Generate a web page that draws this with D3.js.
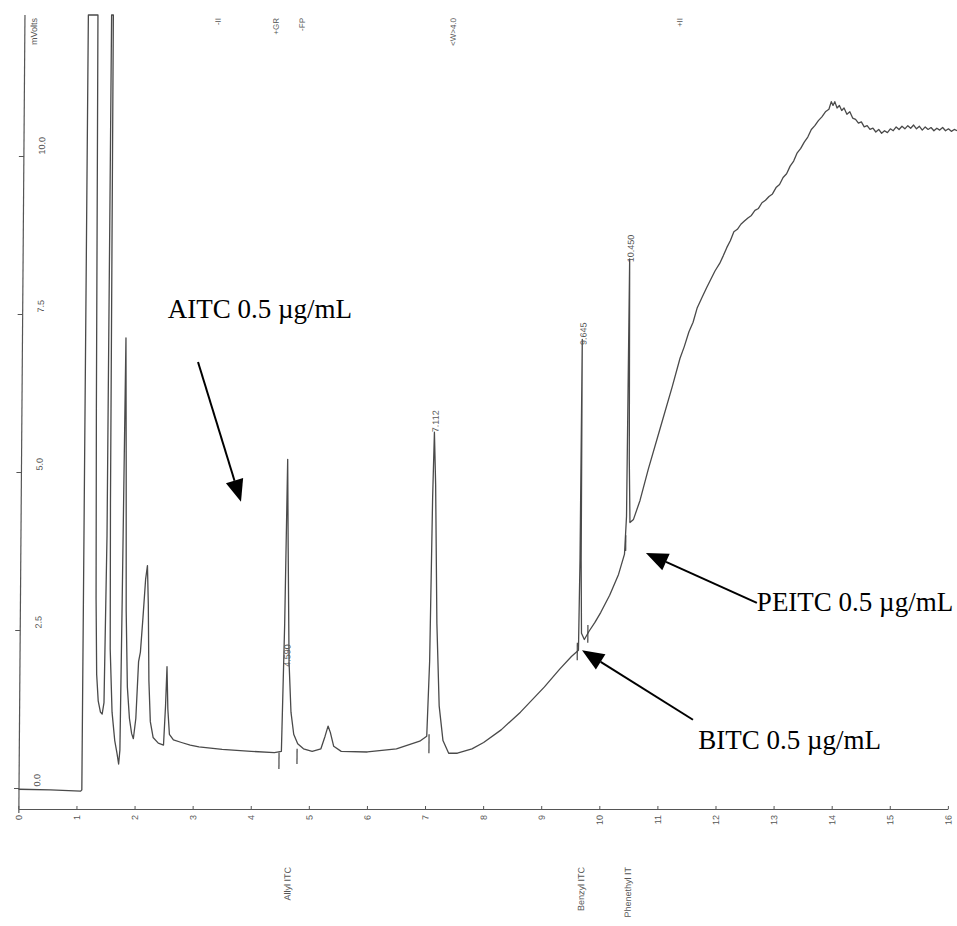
<!DOCTYPE html>
<html>
<head>
<meta charset="utf-8">
<script src="https://cdn.jsdelivr.net/npm/d3@7"></script>
<style>
  body { margin: 0; background: #fff; }
  svg { display: block; font-family: 'Liberation Sans', Arial, sans-serif; }
</style>
</head>
<body>
<div id="chart"></div>
<script>
// retention time (min) tick labels and signal (mV) tick labels
const timeTicks = [0, 1, 2, 3, 4, 5, 6, 7, 8, 9, 10, 11, 12, 13, 14, 15, 16]
const signalTicks = [0, 2.5, 5, 7.5, 10]

// detector trace: [time, mV]
const trace = [
  [0.0, -0.02], [0.55, -0.03], [1.07, -0.05], [1.09, -0.03], [1.1, 13], [1.265, 13],
  [1.29, 6.0], [1.31, 3.0], [1.33, 1.8], [1.36, 1.38], [1.4, 1.2], [1.43, 1.17],
  [1.46, 1.35], [1.49, 4.0], [1.5, 13], [1.53, 13], [1.545, 4.5], [1.56, 2.2],
  [1.6, 1.2], [1.65, 0.75], [1.69, 0.55], [1.72, 0.38], [1.74, 0.6], [1.76, 3.0],
  [1.79, 7.12], [1.81, 5.2], [1.83, 2.8], [1.86, 1.6], [1.9, 1.1], [1.94, 0.86],
  [1.97, 0.78], [2.01, 1.1], [2.05, 2.0], [2.08, 2.15], [2.12, 2.7], [2.16, 3.3],
  [2.19, 3.52], [2.21, 2.9], [2.23, 1.7], [2.26, 1.05], [2.31, 0.8], [2.4, 0.71],
  [2.49, 0.68], [2.52, 1.3], [2.54, 1.92], [2.56, 1.25], [2.59, 0.85], [2.66, 0.76],
  [2.8, 0.72], [2.95, 0.68], [3.1, 0.65], [3.5, 0.61], [4.0, 0.58], [4.4, 0.56],
  [4.52, 0.58], [4.56, 2.6], [4.59, 5.2], [4.61, 3.8], [4.64, 2.0], [4.68, 1.2],
  [4.73, 0.85], [4.8, 0.7], [4.9, 0.62], [5.05, 0.58], [5.2, 0.62], [5.27, 0.82],
  [5.32, 0.98], [5.36, 0.88], [5.42, 0.66], [5.55, 0.58], [6.0, 0.57], [6.5, 0.62],
  [6.9, 0.74], [7.02, 0.82], [7.06, 2.0], [7.09, 4.6], [7.112, 5.63], [7.14, 4.8],
  [7.18, 2.6], [7.23, 1.3], [7.3, 0.75], [7.4, 0.55], [7.55, 0.55], [7.8, 0.62],
  [8.0, 0.72], [8.3, 0.92], [8.63, 1.2], [9.04, 1.6], [9.3, 1.88], [9.5, 2.08],
  [9.62, 2.18], [9.635, 3.6], [9.645, 7.1], [9.655, 3.6], [9.67, 2.45], [9.72, 2.35],
  [9.8, 2.48], [9.9, 2.62], [10.0, 2.78], [10.15, 3.05], [10.3, 3.38], [10.4, 3.7],
  [10.43, 4.3], [10.45, 8.37], [10.47, 5.2], [10.49, 4.2], [10.55, 4.25], [10.66, 4.55],
  [10.8, 5.05], [11.0, 5.7], [11.2, 6.35], [11.33, 6.8], [11.4, 6.98], [11.48, 7.22],
  [11.55, 7.37], [11.62, 7.6], [11.7, 7.76], [11.78, 7.92], [11.85, 8.05], [11.92, 8.18],
  [12.0, 8.3], [12.06, 8.42], [12.12, 8.55], [12.18, 8.66], [12.24, 8.8], [12.3, 8.84],
  [12.36, 8.92], [12.42, 8.97], [12.48, 9.02], [12.54, 9.06], [12.6, 9.14], [12.66, 9.17],
  [12.72, 9.26], [12.78, 9.3], [12.84, 9.36], [12.9, 9.4], [12.96, 9.5], [13.02, 9.55],
  [13.08, 9.66], [13.14, 9.72], [13.2, 9.84], [13.26, 9.92], [13.32, 10.05], [13.38, 10.12],
  [13.44, 10.22], [13.5, 10.3], [13.56, 10.42], [13.62, 10.48], [13.68, 10.56], [13.74, 10.62],
  [13.8, 10.7], [13.86, 10.74], [13.9, 10.86], [13.93, 10.8], [13.96, 10.86], [14.0, 10.76],
  [14.04, 10.8], [14.08, 10.72], [14.12, 10.76], [14.17, 10.66], [14.22, 10.7], [14.27, 10.6],
  [14.32, 10.58], [14.37, 10.52], [14.42, 10.54], [14.47, 10.46], [14.52, 10.48], [14.57, 10.42],
  [14.62, 10.44], [14.67, 10.38], [14.72, 10.42], [14.77, 10.36], [14.82, 10.4], [14.87, 10.37],
  [14.92, 10.43], [14.97, 10.4], [15.02, 10.46], [15.07, 10.42], [15.12, 10.47], [15.17, 10.43],
  [15.22, 10.48], [15.27, 10.44], [15.32, 10.49], [15.37, 10.43], [15.42, 10.47], [15.47, 10.41],
  [15.52, 10.46], [15.57, 10.42], [15.62, 10.45], [15.67, 10.4], [15.72, 10.44], [15.77, 10.41],
  [15.82, 10.45], [15.87, 10.4], [15.92, 10.43], [15.97, 10.39], [16.02, 10.42], [16.07, 10.4]
]

// integration marks: [time, mV low, mV high]
const markers = [
  [4.48, 0.3, 0.56], [4.79, 0.38, 0.62], [7.06, 0.55, 0.85],
  [9.6, 2.02, 2.3], [9.78, 2.3, 2.58], [10.42, 3.75, 4.0]
]

// retention time labels above peaks: [label, time, mV at label foot]
const peakLabels = [
  ['4.590', 4.59, 1.92], ['7.112', 7.112, 5.63], ['9.645', 9.645, 7.01], ['10.450', 10.45, 8.32]
]

// compound names printed under the time axis
const compounds = [['Allyl ITC', 4.59], ['Benzyl ITC', 9.645], ['Phenethyl IT', 10.45]]

// integration event codes along the top
const events = [['-II', 3.33], ['+GR', 4.33], ['-FP', 4.78], ['<W>4.0', 7.38], ['+II', 11.28]]

// typed annotations: [text, time, mV] and arrows [t start, mV start, t tip, mV tip]
const notes = [
  ['AITC 0.5 \u00b5g/mL', 2.57, 7.44],
  ['PEITC 0.5 \u00b5g/mL', 12.71, 2.8],
  ['BITC 0.5 \u00b5g/mL', 11.7, 0.62]
]
const arrows = [
  [3.09, 6.74, 3.83, 4.53],
  [12.71, 2.93, 10.8, 3.72],
  [11.61, 1.08, 9.7, 2.18]
]

const width = 957
const height = 926

const svg = d3
  .select('#chart')
  .append('svg')
  .attr('width', width)
  .attr('height', height)

const x = d3.scaleLinear().domain([0, 16]).range([18.5, 948])
const y = d3.scaleLinear().domain([0, 10]).range([788, 156])
const vMax = y.invert(15)

// the scan is slightly sheared, tops lean right
const k = 0.0077
const plot = svg
  .append('g')
  .attr('transform', `translate(${k * 790},0) skewX(${(-Math.atan(k) * 180) / Math.PI})`)

const ink = '#555'

// y axis
plot
  .append('line')
  .attr('x1', 19)
  .attr('x2', 19)
  .attr('y1', y(vMax))
  .attr('y2', 813)
  .attr('stroke', ink)
  .attr('stroke-width', 1.2)

const yAxis = plot
  .append('g')
  .attr('transform', 'translate(19,0)')
  .call(
    d3.axisLeft(y).tickValues(signalTicks).tickSize(5).tickFormat(d3.format('.1f'))
  )
yAxis.select('.domain').remove()
yAxis.selectAll('line').attr('stroke', ink)
yAxis
  .selectAll('text')
  .attr('x', null)
  .attr('dy', '0.35em')
  .attr('text-anchor', 'start')
  .attr('transform', 'translate(18,-2) rotate(-90)')
  .attr('font-size', 9)
  .attr('fill', ink)

plot
  .append('text')
  .text('mVolts')
  .attr('transform', `translate(28,18) rotate(-90)`)
  .attr('text-anchor', 'end')
  .attr('dy', '0.35em')
  .attr('font-size', 9)
  .attr('fill', ink)

// x axis
const xAxis = plot
  .append('g')
  .attr('transform', 'translate(0,809)')
  .call(d3.axisBottom(x).tickValues(timeTicks).tickSizeInner(-3).tickSizeOuter(0))
xAxis.select('.domain').attr('stroke', ink).attr('stroke-width', 1.2)
xAxis.selectAll('line').attr('stroke', ink)
xAxis
  .selectAll('text')
  .attr('y', null)
  .attr('dy', '0.35em')
  .attr('text-anchor', 'end')
  .attr('transform', 'translate(0,6) rotate(-90)')
  .attr('font-size', 9)
  .attr('fill', ink)

// trace
const line = d3
  .line()
  .x(d => x(d[0]))
  .y(d => y(Math.min(d[1], vMax)))

plot
  .append('path')
  .datum(trace)
  .attr('d', line)
  .attr('fill', 'none')
  .attr('stroke', '#4a4a4a')
  .attr('stroke-width', 1.3)
  .attr('stroke-linejoin', 'round')

plot
  .selectAll('.marker')
  .data(markers)
  .enter()
  .append('line')
  .attr('class', 'marker')
  .attr('x1', d => x(d[0]))
  .attr('x2', d => x(d[0]))
  .attr('y1', d => y(d[1]))
  .attr('y2', d => y(d[2]))
  .attr('stroke', '#444')
  .attr('stroke-width', 1.2)

plot
  .selectAll('.peak-label')
  .data(peakLabels)
  .enter()
  .append('text')
  .attr('class', 'peak-label')
  .text(d => d[0])
  .attr('transform', d => `translate(${x(d[1]) + 1},${y(d[2])}) rotate(-90)`)
  .attr('dy', '0.35em')
  .attr('font-size', 9)
  .attr('fill', ink)

plot
  .selectAll('.compound')
  .data(compounds)
  .enter()
  .append('text')
  .attr('class', 'compound')
  .text(d => d[0])
  .attr('transform', d => `translate(${x(d[1]) + 3},867) rotate(-90)`)
  .attr('text-anchor', 'end')
  .attr('dy', '0.35em')
  .attr('font-size', 9)
  .attr('fill', ink)

plot
  .selectAll('.event')
  .data(events)
  .enter()
  .append('text')
  .attr('class', 'event')
  .text(d => d[0])
  .attr('transform', d => `translate(${x(d[1])},18) rotate(-90)`)
  .attr('text-anchor', 'end')
  .attr('dy', '0.35em')
  .attr('font-size', 8)
  .attr('fill', ink)

// annotations typed over the scan
const notesG = svg.append('g')

notesG
  .selectAll('.note')
  .data(notes)
  .enter()
  .append('text')
  .attr('class', 'note')
  .text(d => d[0])
  .attr('x', d => x(d[1]))
  .attr('y', d => y(d[2]))
  .attr('font-family', "'Liberation Serif', 'Times New Roman', serif")
  .attr('font-size', 27)
  .attr('fill', '#000')

arrows.forEach(function(a) {
  const x1 = x(a[0])
  const y1 = y(a[1])
  const x2 = x(a[2])
  const y2 = y(a[3])
  const ang = Math.atan2(y2 - y1, x2 - x1)
  const len = 22
  const half = 9
  const bx = x2 - len * Math.cos(ang)
  const by = y2 - len * Math.sin(ang)

  notesG
    .append('line')
    .attr('x1', x1)
    .attr('y1', y1)
    .attr('x2', bx)
    .attr('y2', by)
    .attr('stroke', '#000')
    .attr('stroke-width', 2)

  notesG
    .append('path')
    .attr(
      'd',
      `M${x2},${y2}L${bx + half * Math.sin(ang)},${by - half * Math.cos(ang)}L${bx - half * Math.sin(ang)},${by + half * Math.cos(ang)}Z`
    )
    .attr('fill', '#000')
})
</script>
</body>
</html>
